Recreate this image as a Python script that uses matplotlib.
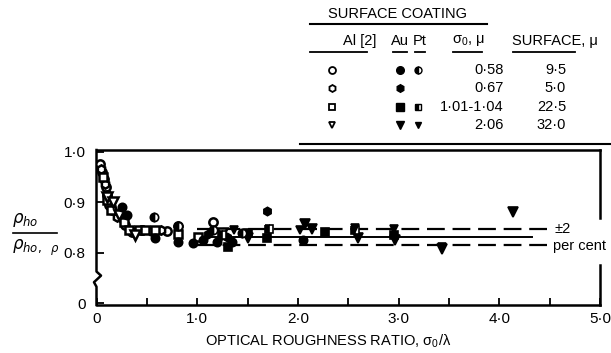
import matplotlib
matplotlib.use("Agg")
import matplotlib.pyplot as plt
import numpy as np

plt.rcParams["font.family"] = ["Liberation Sans", "DejaVu Sans"]

# ---- data (x = sigma0/lambda, y = rho_ho / rho_ho,p) ----
al_058_x = [0.03, 0.05, 0.07, 0.09, 0.10, 0.12, 0.15, 0.22, 0.28, 0.35, 0.45, 0.55, 0.70, 0.81, 1.16]
al_058_y = [0.975, 0.960, 0.945, 0.930, 0.915, 0.895, 0.885, 0.875, 0.855, 0.842, 0.845, 0.843, 0.843, 0.852, 0.860]
al_067_x = [0.04, 0.08, 0.20, 0.64]
al_067_y = [0.965, 0.935, 0.870, 0.846]
al_101_x = [0.06, 0.10, 0.14, 0.27, 0.32, 0.42, 0.48, 0.58, 0.81, 1.01]
al_101_y = [0.950, 0.905, 0.885, 0.860, 0.845, 0.845, 0.845, 0.845, 0.838, 0.832]
al_206_x = [0.10, 0.16, 0.22, 0.38, 1.25]
al_206_y = [0.910, 0.900, 0.875, 0.835, 0.840]

au_058_x = [0.25, 0.30, 0.58, 0.81, 0.96, 1.06, 1.20, 1.35, 2.05]
au_058_y = [0.890, 0.875, 0.830, 0.821, 0.819, 0.825, 0.821, 0.822, 0.826]
au_067_x = [1.69, 1.11, 1.30]
au_067_y = [0.882, 0.838, 0.832]
au_101_x = [1.31, 1.69, 2.27, 1.50, 2.95]
au_101_y = [0.811, 0.829, 0.841, 0.840, 0.835]
au_206_x = [4.14, 3.43, 2.07, 2.60, 2.96, 2.14, 1.50]
au_206_y = [0.880, 0.807, 0.856, 0.830, 0.825, 0.848, 0.829]

pt_058_x = [0.57, 0.81, 1.16, 1.44]
pt_058_y = [0.871, 0.853, 0.845, 0.840]
pt_101_x = [1.25, 2.57, 1.71]
pt_101_y = [0.835, 0.845, 0.848]
pt_206_x = [2.95, 2.57, 3.43, 2.02, 1.37]
pt_206_y = [0.848, 0.849, 0.812, 0.845, 0.845]

mean_level = 0.831
band = 0.016
band_x = [1.0, 4.47]
mean_x = [1.0, 4.32]

x_ticks = [0, 1, 2, 3, 4, 5]
x_tick_labels = ["0", "1·0", "2·0", "3·0", "4·0", "5·0"]
y_ticks = [0.7, 0.8, 0.9, 1.0]
y_tick_labels = ["0", "0·8", "0·9", "1·0"]

sigma_labels = ["0·58", "0·67", "1·01-1·04", "2·06"]
surface_labels = ["9·5", "5·0", "22·5", "32·0"]

FS = 10.5
W, H = 611, 353
fig = plt.figure(figsize=(W / 100, H / 100), dpi=100)
ax = fig.add_axes([96.5 / W, 1 - 305 / H, (600 - 96.5) / W, (305 - 150) / H])
ax.set_xlim(0, 5.0)
ax.set_ylim(0.697, 1.003)

k = "black"
ms = 6.0
def pts(x, y, m, filled, size=ms, fs="full"):
    if filled:
        ax.plot(x, y, m, ls="none", ms=size, mfc=k, mec=k, mew=1.2, fillstyle=fs,
                markerfacecoloralt="white", zorder=3)
    else:
        ax.plot(x, y, m, ls="none", ms=size, mfc="white", mec=k, mew=1.8, zorder=3)

pts(al_058_x, al_058_y, "o", False)
pts(al_067_x, al_067_y, "h", False)
pts(al_101_x, al_101_y, "s", False, size=5.5)
pts(al_206_x, al_206_y, "v", False, size=6.5)
pts(au_058_x, au_058_y, "o", True)
pts(au_067_x, au_067_y, "h", True)
pts(au_101_x, au_101_y, "s", True, size=5.5)
pts(au_206_x, au_206_y, "v", True, size=7)
pts(pt_058_x, pt_058_y, "o", True, fs="left")
pts(pt_101_x, pt_101_y, "s", True, size=5.5, fs="left")
pts(pt_206_x, pt_206_y, "v", True, size=5.5)

for lev in (mean_level + band, mean_level - band):
    ax.plot(band_x, [lev, lev], color=k, lw=1.6, dashes=(8, 3.5), zorder=2)
ax.plot(mean_x, [mean_level, mean_level], color=k, lw=1.4, zorder=2)
ax.text(4.55, mean_level + band, "±2", fontsize=FS, va="center", ha="left")
ax.text(4.53, mean_level - band - 0.002, "per cent", fontsize=FS, va="center", ha="left")

# axes frame: broken right spine around the band label, zigzag on the left
for s in ("left", "right"):
    ax.spines[s].set_visible(False)
for s in ("top", "bottom"):
    ax.spines[s].set_linewidth(1.8)
ax.plot([5.0, 5.0], [1.003, 0.868], color=k, lw=1.8, clip_on=False)
ax.plot([5.0, 5.0], [0.775, 0.697], color=k, lw=1.8, clip_on=False)
ax.plot([0, 0, 0.045, -0.025, 0, 0], [1.003, 0.763, 0.755, 0.742, 0.733, 0.697],
        color=k, lw=1.8, clip_on=False)

ax.set_xticks(x_ticks)
ax.set_xticklabels(x_tick_labels)
ax.set_xticks(np.arange(0, 5.01, 0.5), minor=True)
ax.set_yticks(y_ticks)
ax.set_yticklabels(y_tick_labels)
ax.tick_params(direction="in", length=5, width=1.3, labelsize=FS + 0.5, pad=5)
ax.tick_params(which="minor", direction="in", length=5, width=1.3)
ax.tick_params(axis="y", pad=8)
ax.set_xlabel("OPTICAL ROUGHNESS RATIO, $\\mathregular{\\sigma_0}$/λ", fontsize=FS, labelpad=2)
ax.xaxis.set_label_coords((328 - 96.5) / 503.5, -0.18)

# ---- overlay in pixel coordinates for the y-label fraction and the legend table ----
ov = fig.add_axes([0, 0, 1, 1], zorder=5)
ov.set_xlim(0, W)
ov.set_ylim(H, 0)
ov.axis("off")

ov.text(12, 220, r"$\rho_{ho}$", fontsize=12, ha="left", va="center")
ov.plot([13, 57], [233, 233], color=k, lw=1.2)
ov.text(12, 248, r"$\rho_{ho,\ \ \rho}$", fontsize=12, ha="left", va="center")

ov.text(398, 14, "SURFACE COATING", fontsize=FS, ha="center", va="center")
ov.plot([310, 487], [24, 24], color=k, lw=1.5)
hdr_y = 41
ov.text(360, hdr_y, "Al [2]", fontsize=FS, ha="center", va="center")
ov.text(400, hdr_y, "Au", fontsize=FS, ha="center", va="center")
ov.text(420, hdr_y, "Pt", fontsize=FS, ha="center", va="center")
ov.text(468, hdr_y, "$\\mathregular{\\sigma_0}$, μ", fontsize=FS, ha="center", va="center")
ov.text(555, hdr_y, "SURFACE, μ", fontsize=FS, ha="center", va="center")
for x0, x1 in [(310, 367), (393, 407), (415, 425), (453, 482), (513, 575)]:
    ov.plot([x0, x1], [52, 52], color=k, lw=1.3)
ov.plot([300, 611], [144, 144], color=k, lw=1.5)

row_y = [70, 88, 107, 125]
al_m = ["o", "h", "s", "v"]
au_m = ["o", "h", "s", "v"]
pt_m = ["o", None, "s", "v"]
for i, yy in enumerate(row_y):
    ov.plot([332], [yy], al_m[i], ms=5, mfc="white", mec=k, mew=1.3)
    ov.plot([400], [yy], au_m[i], ms=5.5, mfc=k, mec=k)
    if pt_m[i]:
        ov.plot([418], [yy], pt_m[i], ms=5, mfc=k, mec=k, fillstyle="left" if i < 3 else "full",
                markerfacecoloralt="white")
    sx = 489 if len(sigma_labels[i]) < 6 else 472
    ov.text(sx, yy, sigma_labels[i], fontsize=FS, ha="center", va="center")
    ov.text(566, yy, surface_labels[i], fontsize=FS, ha="right", va="center")

fig.savefig("out.png", dpi=100)
